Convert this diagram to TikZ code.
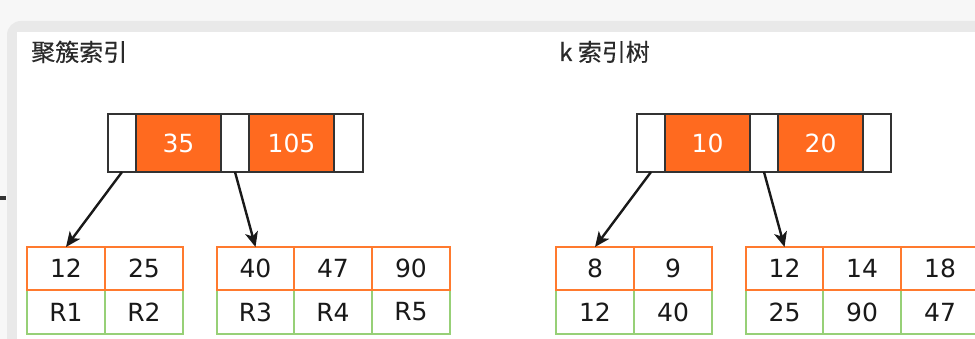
\documentclass[tikz,border=0pt]{standalone}
\usepackage{fontspec}
\setmainfont{DejaVu Sans}
\newfontfamily\cjkfont[FakeBold=0.4]{Noto Sans CJK SC}
\usetikzlibrary{arrows.meta}
\definecolor{pagebg}{HTML}{F7F7F7}
\definecolor{cardrim}{HTML}{E9E9E9}
\definecolor{boxline}{HTML}{333333}
\definecolor{orangefill}{HTML}{FF6A1F}
\definecolor{keyline}{HTML}{FF7A2E}
\definecolor{valline}{HTML}{97D077}
\definecolor{titlecol}{HTML}{2A2A2A}
\tikzset{
  cellbase/.style={line width=1.6pt, inner sep=0pt, outer sep=0pt, minimum height=58pt, font=\fontsize{25}{25}\selectfont},
  wcell/.style={cellbase, draw=boxline, fill=white},
  ocell/.style={cellbase, draw=boxline, fill=orangefill, text=white},
  keycell/.style={draw=keyline, fill=white, line width=2.2pt, inner sep=0pt, outer sep=0pt, minimum width=78pt, minimum height=43pt, text=black!90, font=\fontsize{25}{25}\selectfont},
  valcell/.style={draw=valline, fill=white, line width=2.2pt, inner sep=0pt, outer sep=0pt, minimum width=78pt, minimum height=44pt, text=black!90, font=\fontsize{25}{25}\selectfont},
  title/.style={anchor=base west, inner sep=0pt, text=titlecol, font=\cjkfont\fontsize{24}{24}\selectfont},
  arr/.style={-{Stealth[length=15pt,width=13pt,inset=4pt]}, line width=2.4pt, draw=black!90},
}
\begin{document}
\begin{tikzpicture}[x=1pt,y=-1pt]
\useasboundingbox (0,0) rectangle (975,339);
% background and card
\fill[pagebg] (0,0) rectangle (975,339);
\fill[cardrim, rounded corners=14pt] (7,21) rectangle (1010,360);
\fill[white] (17,32) rectangle (1010,360);
\fill[boxline] (0,196) rectangle (6,200);

% titles
\node[title] (t1) at (31,61) {聚簇索引};
\node[title] (t2) at (559,61) {k 索引树};

% left top node
\node[wcell, minimum width=28pt] (L0) at (122,143) {};
\node[ocell, minimum width=85pt] (L1) at (178.5,143) {35};
\node[wcell, minimum width=28pt] (L2) at (235,143) {};
\node[ocell, minimum width=85pt] (L3) at (291.5,143) {105};
\node[wcell, minimum width=29pt] (L4) at (348.5,143) {};

% right top node
\node[wcell, minimum width=28pt] (R0) at (651,143) {};
\node[ocell, minimum width=85pt] (R1) at (707.5,143) {10};
\node[wcell, minimum width=28pt] (R2) at (764,143) {};
\node[ocell, minimum width=85pt] (R3) at (820.5,143) {20};
\node[wcell, minimum width=28pt] (R4) at (877,143) {};

% left leaves: value rows
\node[valcell] (V1) at (66,312) {R1};
\node[valcell] (V2) at (144,312) {R2};
\node[valcell, minimum width=77pt] (V3) at (255.5,312) {R3};
\node[valcell] (V4) at (333,312) {R4};
\node[valcell] (V5) at (411,312) {R5};
% left leaves: key rows
\node[keycell] (K1) at (66,268.5) {12};
\node[keycell] (K2) at (144,268.5) {25};
\node[keycell, minimum width=77pt] (K3) at (255.5,268.5) {40};
\node[keycell] (K4) at (333,268.5) {47};
\node[keycell] (K5) at (411,268.5) {90};

% right leaves: value rows
\node[valcell] (W1) at (595,312) {12};
\node[valcell] (W2) at (673,312) {40};
\node[valcell, minimum width=77pt] (W3) at (784.5,312) {25};
\node[valcell] (W4) at (862,312) {90};
\node[valcell] (W5) at (940,312) {47};
% right leaves: key rows
\node[keycell] (J1) at (595,268.5) {8};
\node[keycell] (J2) at (673,268.5) {9};
\node[keycell, minimum width=77pt] (J3) at (784.5,268.5) {12};
\node[keycell] (J4) at (862,268.5) {14};
\node[keycell] (J5) at (940,268.5) {18};

% redraw top node borders over adjacent fills
\foreach \n in {L0,L1,L2,L3,L4,R0,R1,R2,R3,R4}{
  \draw[boxline, line width=1.6pt] (\n.north west) rectangle (\n.south east);
}

% arrows
\draw[arr] (L0.south) -- (K1.north);
\draw[arr] (L2.south) -- (K3.north);
\draw[arr] (R0.south) -- (J1.north);
\draw[arr] (R2.south) -- (J3.north);
\end{tikzpicture}
\end{document}
